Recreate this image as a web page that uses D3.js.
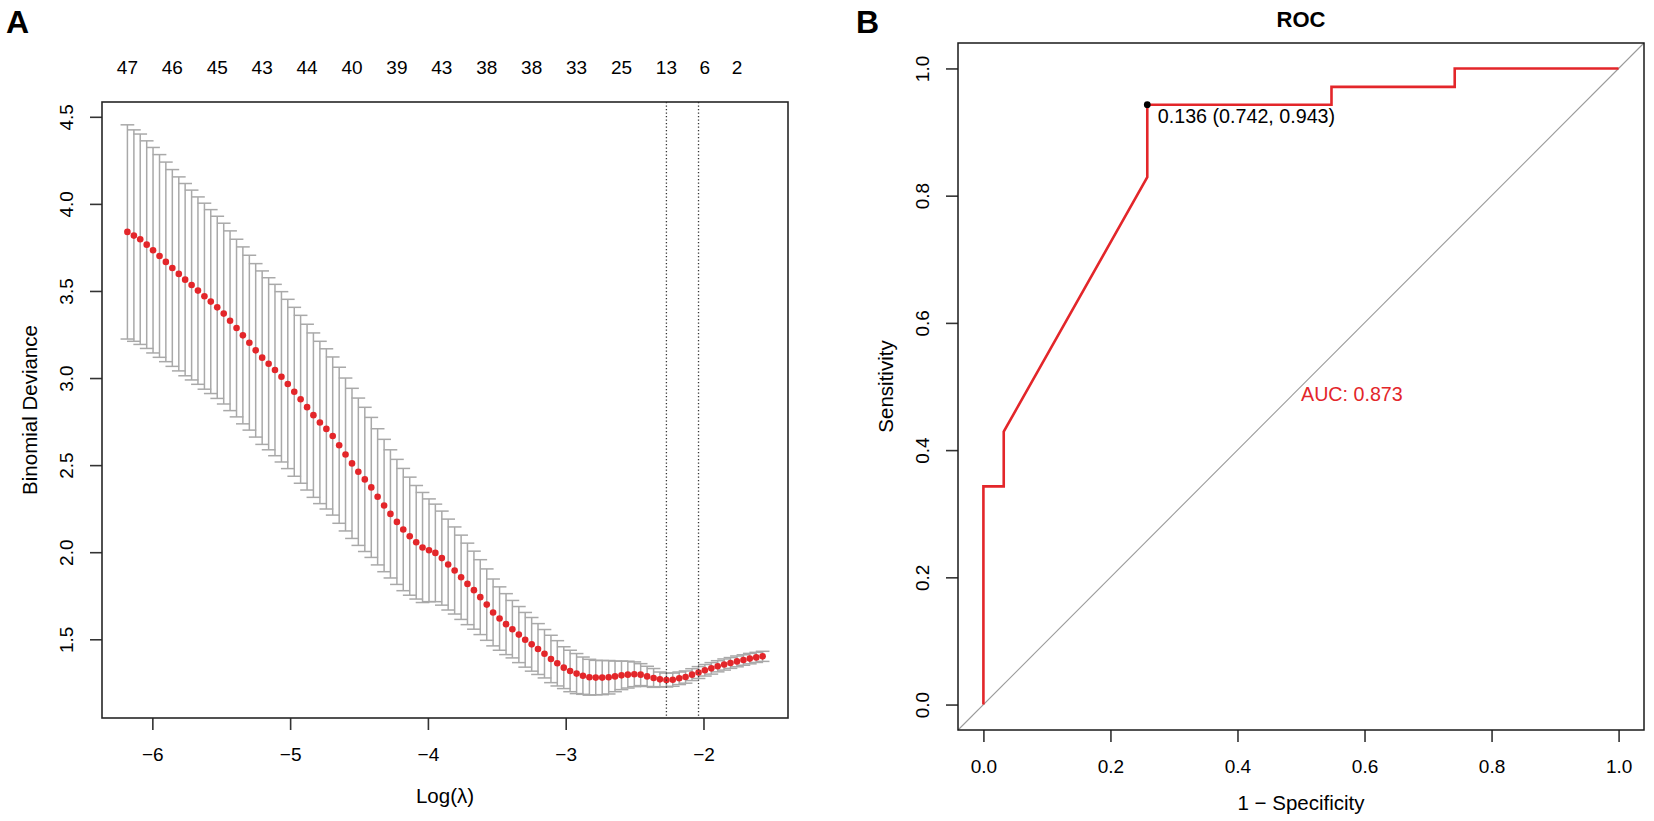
<!DOCTYPE html>
<html>
<head>
<meta charset="utf-8">
<script src="https://cdn.jsdelivr.net/npm/d3@7"></script>
<style>
  body { margin: 0; background: #fff; }
  svg { display: block; font-family: "Liberation Sans", Arial, Helvetica, sans-serif; }
</style>
</head>
<body>
<svg id="viz" width="1654" height="821"></svg>
<script>
// ---- Panel A: cross-validated binomial deviance along the lambda path ----
const logLambda = [
  -6.181, -6.134, -6.088, -6.041, -5.995, -5.948, -5.902, -5.855, -5.808, -5.762,
  -5.715, -5.669, -5.622, -5.576, -5.529, -5.482, -5.436, -5.389, -5.343, -5.296,
  -5.250, -5.203, -5.156, -5.110, -5.063, -5.017, -4.970, -4.924, -4.877, -4.831,
  -4.784, -4.737, -4.691, -4.644, -4.598, -4.551, -4.505, -4.458, -4.411, -4.365,
  -4.318, -4.272, -4.225, -4.179, -4.132, -4.085, -4.039, -3.992, -3.946, -3.899,
  -3.853, -3.806, -3.759, -3.713, -3.666, -3.620, -3.573, -3.527, -3.480, -3.433,
  -3.387, -3.340, -3.294, -3.247, -3.201, -3.154, -3.107, -3.061, -3.014, -2.968,
  -2.921, -2.875, -2.828, -2.782, -2.735, -2.688, -2.642, -2.595, -2.549, -2.502,
  -2.456, -2.409, -2.362, -2.316, -2.269, -2.223, -2.176, -2.130, -2.083, -2.036,
  -1.990, -1.943, -1.897, -1.850, -1.804, -1.757, -1.710, -1.664, -1.617, -1.571
];

// mean cv deviance
const cvm = [
  3.839, 3.818, 3.797, 3.766, 3.734, 3.701, 3.667, 3.632, 3.598, 3.565,
  3.534, 3.502, 3.470, 3.439, 3.406, 3.370, 3.329, 3.287, 3.245, 3.203,
  3.159, 3.117, 3.082, 3.046, 3.007, 2.966, 2.921, 2.878, 2.833, 2.787,
  2.745, 2.708, 2.667, 2.614, 2.561, 2.510, 2.462, 2.418, 2.372, 2.318,
  2.268, 2.220, 2.174, 2.130, 2.092, 2.057, 2.027, 2.011, 1.996, 1.966,
  1.929, 1.895, 1.856, 1.818, 1.782, 1.742, 1.699, 1.654, 1.619, 1.587,
  1.558, 1.527, 1.497, 1.471, 1.444, 1.417, 1.387, 1.362, 1.337, 1.318,
  1.303, 1.291, 1.282, 1.280, 1.280, 1.282, 1.287, 1.293, 1.297, 1.299,
  1.297, 1.287, 1.278, 1.270, 1.266, 1.268, 1.276, 1.283, 1.297, 1.309,
  1.322, 1.333, 1.345, 1.355, 1.364, 1.373, 1.381, 1.389, 1.396, 1.402
];

// standard error of the cv deviance (half length of each bar)
const cvsd = [
  0.615, 0.607, 0.604, 0.596, 0.590, 0.582, 0.573, 0.565, 0.557, 0.552,
  0.545, 0.538, 0.534, 0.528, 0.523, 0.519, 0.516, 0.510, 0.508, 0.502,
  0.498, 0.498, 0.494, 0.492, 0.489, 0.486, 0.485, 0.482, 0.476, 0.472,
  0.466, 0.460, 0.454, 0.448, 0.439, 0.431, 0.423, 0.414, 0.402, 0.391,
  0.380, 0.368, 0.359, 0.351, 0.339, 0.326, 0.316, 0.295, 0.280, 0.270,
  0.261, 0.250, 0.242, 0.234, 0.224, 0.215, 0.205, 0.192, 0.182, 0.175,
  0.165, 0.161, 0.157, 0.154, 0.146, 0.139, 0.136, 0.130, 0.120, 0.119,
  0.115, 0.107, 0.103, 0.099, 0.098, 0.096, 0.088, 0.082, 0.077, 0.071,
  0.063, 0.058, 0.054, 0.042, 0.040, 0.038, 0.036, 0.035, 0.034, 0.034,
  0.033, 0.033, 0.032, 0.032, 0.031, 0.031, 0.030, 0.030, 0.029, 0.029
];

// number of non-zero coefficients printed on top (only the ones R kept)
const nzTickIdx = [0, 7, 14, 21, 28, 35, 42, 49, 56, 63, 70, 77, 84, 90, 95];
const nzLabels = ["47", "46", "45", "43", "44", "40", "39", "43", "38", "38", "33", "25", "13", "6", "2"];

// lambda.min and lambda.1se
const lambdaLines = [-2.269, -2.036];

const devTicksX = [-6, -5, -4, -3, -2];
const devTicksY = [1.5, 2.0, 2.5, 3.0, 3.5, 4.0, 4.5];

// ---- Panel B: ROC curve ----
const rocFpr = [0, 0, 0.032, 0.032, 0.258, 0.258, 0.548, 0.548, 0.742, 0.742, 1];
const rocTpr = [0, 0.343, 0.343, 0.429, 0.829, 0.943, 0.943, 0.971, 0.971, 1, 1];
const bestThres = { fpr: 0.258, tpr: 0.943, label: "0.136 (0.742, 0.943)" };
const aucLabel = "AUC: 0.873";
const rocTicks = [0, 0.2, 0.4, 0.6, 0.8, 1.0];

(function () {
  "use strict";

  let svg = d3.select("#viz");
  let red = "#e3262a";
  let font = { tick: 19, title: 20.5 };

  // R style limits: data range stretched by 4% on both sides
  function rRange(lo, hi) {
    let pad = (hi - lo) * 0.04;
    return [lo - pad, hi + pad];
  }

  /*
  |--------------------------------------------------------------------------
  | Panel A
  |--------------------------------------------------------------------------
  */

  let boxA = { left: 102, right: 788, top: 102, bottom: 718 };

  let upper = cvm.map((m, i) => m + cvsd[i]);
  let lower = cvm.map((m, i) => m - cvsd[i]);

  let xA = d3.scaleLinear()
    .domain(rRange(d3.min(logLambda), d3.max(logLambda)))
    .range([boxA.left, boxA.right]);

  let yA = d3.scaleLinear()
    .domain(rRange(d3.min(lower), d3.max(upper)))
    .range([boxA.bottom, boxA.top]);

  let gA = svg.append("g");

  // error bars
  let barW = (xA.domain()[1] - xA.domain()[0]) * 0.01;
  let bars = gA.append("g")
    .attr("stroke", "#a9a9a9")
    .attr("stroke-width", 1.5)
    .selectAll("g")
    .data(logLambda)
    .enter()
    .append("g");

  bars.append("line")
    .attr("x1", d => xA(d)).attr("x2", d => xA(d))
    .attr("y1", (d, i) => yA(upper[i])).attr("y2", (d, i) => yA(lower[i]));
  bars.append("line")
    .attr("x1", d => xA(d - barW)).attr("x2", d => xA(d + barW))
    .attr("y1", (d, i) => yA(upper[i])).attr("y2", (d, i) => yA(upper[i]));
  bars.append("line")
    .attr("x1", d => xA(d - barW)).attr("x2", d => xA(d + barW))
    .attr("y1", (d, i) => yA(lower[i])).attr("y2", (d, i) => yA(lower[i]));

  // mean points
  gA.append("g")
    .selectAll("circle")
    .data(logLambda)
    .enter()
    .append("circle")
    .attr("cx", d => xA(d))
    .attr("cy", (d, i) => yA(cvm[i]))
    .attr("r", 3.3)
    .attr("fill", red);

  // dotted lines at lambda.min / lambda.1se
  gA.append("g")
    .selectAll("line")
    .data(lambdaLines)
    .enter()
    .append("line")
    .attr("x1", d => xA(d)).attr("x2", d => xA(d))
    .attr("y1", boxA.top).attr("y2", boxA.bottom)
    .attr("stroke", "#333")
    .attr("stroke-width", 1.3)
    .attr("stroke-dasharray", "1.3,2.2");

  // axes
  let axisAx = gA.append("g")
    .attr("transform", `translate(0,${boxA.bottom})`)
    .call(d3.axisBottom(xA).tickValues(devTicksX).tickSize(12).tickFormat(d3.format("d")));

  let axisAy = gA.append("g")
    .attr("transform", `translate(${boxA.left},0)`)
    .call(d3.axisLeft(yA).tickValues(devTicksY).tickSize(12).tickFormat(d3.format(".1f")));

  // top labels: non-zero coefficient counts
  gA.append("g")
    .selectAll("text")
    .data(nzTickIdx)
    .enter()
    .append("text")
    .attr("x", d => xA(logLambda[d]))
    .attr("y", boxA.top - 28)
    .attr("text-anchor", "middle")
    .attr("font-size", font.tick)
    .text((d, i) => nzLabels[i]);

  gA.append("rect")
    .attr("x", boxA.left).attr("y", boxA.top)
    .attr("width", boxA.right - boxA.left)
    .attr("height", boxA.bottom - boxA.top)
    .attr("fill", "none")
    .attr("stroke", "#262626")
    .attr("stroke-width", 1.6);

  gA.append("text")
    .attr("x", (boxA.left + boxA.right) / 2)
    .attr("y", 803)
    .attr("text-anchor", "middle")
    .attr("font-size", font.title)
    .text("Log(λ)");

  gA.append("text")
    .attr("transform", `translate(37,${(boxA.top + boxA.bottom) / 2}) rotate(-90)`)
    .attr("text-anchor", "middle")
    .attr("font-size", font.title)
    .text("Binomial Deviance");

  gA.append("text")
    .attr("x", 6).attr("y", 33)
    .attr("font-size", 32)
    .attr("font-weight", "bold")
    .text("A");

  /*
  |--------------------------------------------------------------------------
  | Panel B
  |--------------------------------------------------------------------------
  */

  let boxB = { left: 958, right: 1644, top: 43, bottom: 730 };

  let xB = d3.scaleLinear().domain(rRange(0, 1)).range([boxB.left, boxB.right]);
  let yB = d3.scaleLinear().domain(rRange(0, 1)).range([boxB.bottom, boxB.top]);

  let gB = svg.append("g");

  // chance diagonal across the whole box
  gB.append("line")
    .attr("x1", xB(xB.domain()[0])).attr("y1", yB(yB.domain()[0]))
    .attr("x2", xB(xB.domain()[1])).attr("y2", yB(yB.domain()[1]))
    .attr("stroke", "#9a9a9a")
    .attr("stroke-width", 1.1);

  let rocLine = d3.line()
    .x(d => xB(d[0]))
    .y(d => yB(d[1]));

  gB.append("path")
    .datum(rocFpr.map((f, i) => [f, rocTpr[i]]))
    .attr("d", rocLine)
    .attr("fill", "none")
    .attr("stroke", red)
    .attr("stroke-width", 2.6);

  gB.append("circle")
    .attr("cx", xB(bestThres.fpr))
    .attr("cy", yB(bestThres.tpr))
    .attr("r", 3.4)
    .attr("fill", "#000");

  gB.append("text")
    .attr("x", xB(bestThres.fpr) + 10.5)
    .attr("y", yB(bestThres.tpr) + 18.5)
    .attr("font-size", 19.7)
    .text(bestThres.label);

  gB.append("text")
    .attr("x", xB(0.5))
    .attr("y", yB(0.5) + 14.5)
    .attr("font-size", 19.7)
    .attr("fill", red)
    .text(aucLabel);

  let axisBx = gB.append("g")
    .attr("transform", `translate(0,${boxB.bottom})`)
    .call(d3.axisBottom(xB).tickValues(rocTicks).tickSize(12).tickFormat(d3.format(".1f")));

  let axisBy = gB.append("g")
    .attr("transform", `translate(${boxB.left},0)`)
    .call(d3.axisLeft(yB).tickValues(rocTicks).tickSize(12).tickFormat(d3.format(".1f")));

  gB.append("rect")
    .attr("x", boxB.left).attr("y", boxB.top)
    .attr("width", boxB.right - boxB.left)
    .attr("height", boxB.bottom - boxB.top)
    .attr("fill", "none")
    .attr("stroke", "#1a1a1a")
    .attr("stroke-width", 1.5);

  gB.append("text")
    .attr("x", (boxB.left + boxB.right) / 2)
    .attr("y", 27)
    .attr("text-anchor", "middle")
    .attr("font-size", 22)
    .attr("font-weight", "bold")
    .text("ROC");

  gB.append("text")
    .attr("x", (boxB.left + boxB.right) / 2)
    .attr("y", 810)
    .attr("text-anchor", "middle")
    .attr("font-size", font.title)
    .text("1 − Specificity");

  gB.append("text")
    .attr("transform", `translate(893,${(boxB.top + boxB.bottom) / 2}) rotate(-90)`)
    .attr("text-anchor", "middle")
    .attr("font-size", font.title)
    .text("Sensitivity");

  gB.append("text")
    .attr("x", 856).attr("y", 33)
    .attr("font-size", 32)
    .attr("font-weight", "bold")
    .text("B");

  /*
  |--------------------------------------------------------------------------
  | Axis styling (R look: no domain line, rotated y labels)
  |--------------------------------------------------------------------------
  */

  [axisAx, axisAy, axisBx, axisBy].forEach(function (ax) {
    ax.select(".domain").remove();
    ax.selectAll(".tick line").attr("stroke", "#333").attr("stroke-width", 1.6);
    ax.selectAll(".tick text")
      .attr("font-family", null)
      .attr("font-size", font.tick)
      .attr("fill", "#000");
  });

  [axisAx, axisBx].forEach(function (ax) {
    ax.selectAll(".tick text").attr("y", 43).attr("dy", null);
  });

  [axisAy, axisBy].forEach(function (ax) {
    ax.selectAll(".tick text")
      .attr("transform", "rotate(-90)")
      .attr("x", 0)
      .attr("y", -29.5)
      .attr("dy", null)
      .attr("text-anchor", "middle");
  });

})();
</script>
</body>
</html>
